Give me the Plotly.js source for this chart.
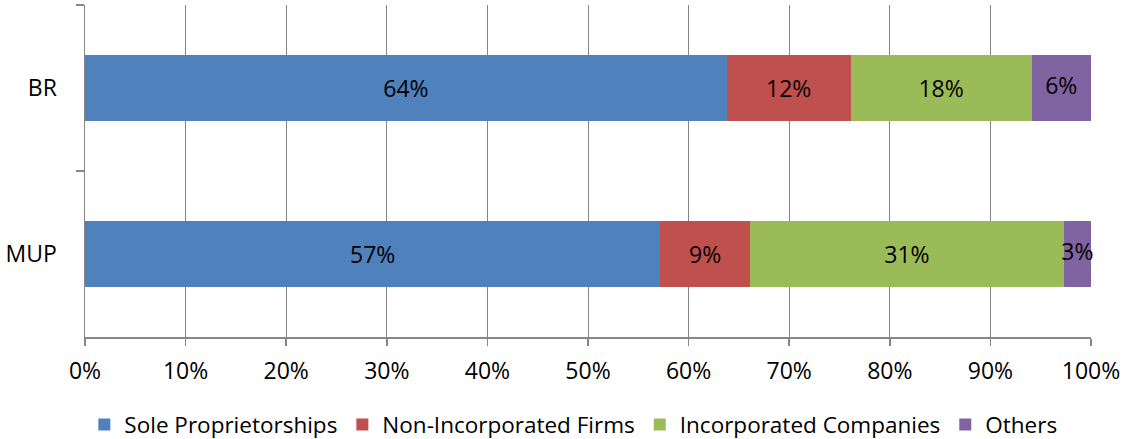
<!DOCTYPE html>
<html><head><meta charset="utf-8">
<script src="https://cdn.plot.ly/plotly-3.0.1.min.js"></script>
<style>html,body{margin:0;padding:0;background:#fff}#chart{width:1122px;height:439px}</style>
</head><body><div id="chart"></div>
<script>
const categories = ["BR", "MUP"];
const seriesNames = ["Sole Proprietorships", "Non-Incorporated Firms", "Incorporated Companies", "Others"];
const soleProp = [63.8, 57.2];
const nonIncorp = [12.3, 8.9];
const incorp = [18.0, 31.2];
const others = [5.9, 2.7];
const soleLabels = ["64%", "57%"];
const nonIncorpLabels = ["12%", "9%"];
const incorpLabels = ["18%", "31%"];
const othersLabels = ["6%", "3%"];
const xTicks = [0,10,20,30,40,50,60,70,80,90,100];
const xTickText = ["0%","10%","20%","30%","40%","50%","60%","70%","80%","90%","100%"];

const colors = ["#4F81BD", "#C0504D", "#9BBB59", "#8064A2"];
const values = [soleProp, nonIncorp, incorp, others];
const labels = [soleLabels, nonIncorpLabels, incorpLabels, othersLabels];
const FONT = "Open Sans, Noto Sans, sans-serif";
const FS = 23;
const LFS = 22.5;

const traces = values.map((v, i) => ({
  type: "bar",
  orientation: "h",
  name: seriesNames[i],
  y: categories,
  x: v,
  text: i < 3 ? labels[i] : undefined,
  textposition: i < 3 ? "inside" : "none",
  insidetextanchor: "middle",
  constraintext: "none",
  textfont: {family: FONT, size: FS, color: "#000"},
  marker: {color: colors[i], line: {width: 0}},
  hoverinfo: "none"
}));

// labels for the last (narrow) segment, centred on it, allowed to overflow
const othersMid = categories.map((c, j) => soleProp[j] + nonIncorp[j] + incorp[j] + others[j] / 2);
traces.push({
  type: "scatter", mode: "text",
  x: othersMid, y: categories,
  text: othersLabels,
  textposition: "middle center",
  textfont: {family: FONT, size: FS, color: "#000"},
  cliponaxis: false,
  showlegend: false, hoverinfo: "none"
});

const layout = {
  width: 1122, height: 439,
  margin: {l: 85, r: 31, t: 5, b: 102},
  barmode: "stack",
  bargap: 0.6,
  paper_bgcolor: "#fff",
  plot_bgcolor: "#fff",
  font: {family: FONT, size: FS, color: "#000"},
  showlegend: true,
  legend: {
    orientation: "h", xref: "container", yref: "container",
    x: 0.511, xanchor: "center", y: 0.032, yanchor: "middle",
    font: {family: FONT, size: LFS, color: "#000"},
    traceorder: "normal", itemclick: false, itemwidth: 30
  },
  xaxis: {
    range: [0, 100], tickvals: xTicks, ticktext: xTickText,
    showgrid: true, gridcolor: "#868686", gridwidth: 1,
    showline: true, linecolor: "#868686", linewidth: 1.5,
    ticks: "outside", ticklen: 7, tickcolor: "#868686", tickwidth: 1.5,
    ticklabelstandoff: 6,
    zeroline: false, fixedrange: true,
    tickfont: {family: FONT, size: FS, color: "#000"}
  },
  yaxis: {
    type: "category", autorange: "reversed",
    showline: true, linecolor: "#868686", linewidth: 1.5,
    ticks: "outside", tickson: "boundaries", ticklen: 8, tickcolor: "#868686", tickwidth: 1.5,
    ticklabelstandoff: 22,
    showgrid: false, zeroline: false, fixedrange: true,
    tickfont: {family: FONT, size: FS, color: "#000"}
  }
};

Plotly.newPlot("chart", traces, layout, {displayModeBar: false, staticPlot: true});
</script></body></html>
